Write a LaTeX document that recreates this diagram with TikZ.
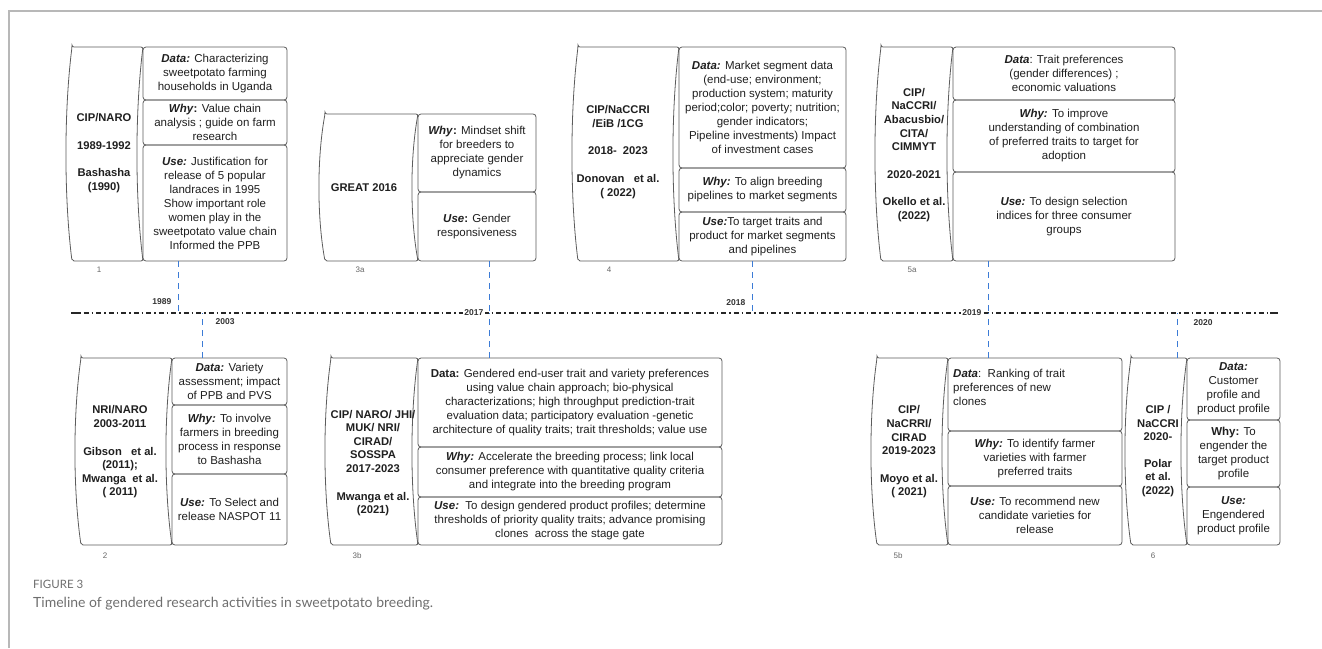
\documentclass[tikz,border=0pt]{standalone}
\usepackage{fontspec}
\setmainfont{Liberation Sans}
\newfontfamily\capfont{Lato}
\usepackage{tikz}
\usepackage{xcolor}
\definecolor{linkblue}{HTML}{3C7BD6}
\definecolor{edgegray}{HTML}{5C5C5C}
\definecolor{framegray}{HTML}{B8B8B8}
\definecolor{capgray}{HTML}{6E6E6E}
\newcommand{\bi}[1]{\textbf{\textit{#1}}}
\newcommand{\barrelshape}[4]{%
  \draw[edge,rounded corners=2pt] (#1,#3) -- (#2,#3)
    .. controls ({#2-8},{#3+0.3*(#4-#3)}) and ({#2-8},{#4-0.3*(#4-#3)}) .. (#2,#4)
    -- (#1,#4)
    .. controls ({#1-8},{#4-0.3*(#4-#3)}) and ({#1-8},{#3+0.3*(#4-#3)}) .. cycle;}
\newcommand{\cellbox}[6]{%
  \draw[edge,rounded corners=3pt] (#2,#3) rectangle (#4,#5);
  \node[celltext] (#1) at ({(#2+#4)/2},{(#3+#5)/2}) {#6};}

\begin{document}
\begin{tikzpicture}[x=1pt,y=-1pt,
  edge/.style={draw=edgegray,line width=0.8pt},
  celltext/.style={align=center,inner sep=0pt,text=black!88,font=\fontsize{11.5}{14}\selectfont},
  barreltext/.style={align=center,inner sep=0pt,text=black!88,font=\fontsize{11.2}{13.6}\selectfont\bfseries},
  tag/.style={text=black!60,inner sep=1pt,font=\fontsize{8}{9}\selectfont},
  year/.style={text=black!80,inner sep=1.5pt,font=\fontsize{8.5}{10}\selectfont\bfseries},
  link/.style={linkblue,line width=0.8pt,dash pattern=on 6pt off 5pt},
  timeline/.style={black!85,line width=2pt,dash pattern=on 5pt off 3pt on 1.5pt off 3pt}]
  \useasboundingbox (0,0) rectangle (1322,648);
  \draw[framegray,line width=1.2pt] (9,648) -- (9,11) -- (1322,11);

  \coordinate (tl0) at (71,313);
  \coordinate (tl1) at (1278,313);
  \draw[timeline] (tl0) -- (tl1);
  \draw[black!85,line width=2.6pt] (tl0) -- ++(8,0);
  \draw[black!85,line width=2.6pt] (tl1) -- ++(-8,0);

  \cellbox{n1data}{143}{47}{287}{100}{\bi{Data:} Characterizing\\sweetpotato farming\\households in Uganda}
  \cellbox{n1why}{143}{100}{287}{145}{\bi{Why}\textbf{:} Value chain\\analysis ; guide on farm\\research}
  \cellbox{n1use}{143}{145}{287}{261}{\bi{Use:} Justification for\\release of 5 popular\\landraces in 1995\\Show important role\\women play in the\\sweetpotato value chain\\Informed the PPB}
  \barrelshape{72}{143}{47}{261}
  \node[barreltext] (n1name) at (104,153) {CIP/NARO\\[14pt]1989-1992\\[14pt]Bashasha\\(1990)};
  \node[tag] (n1tag) at (99,270) {1};

  \cellbox{n3awhy}{418}{114}{536}{192}{\bi{Why}\textbf{:} Mindset shift\\for breeders to\\appreciate gender\\dynamics}
  \cellbox{n3ause}{418}{192}{536}{261}{\bi{Use}\textbf{:} Gender\\responsiveness}
  \barrelshape{325}{418}{114}{261}
  \node[barreltext] (n3aname) at (364,188) {GREAT 2016};
  \node[tag] (n3atag) at (360,270) {3a};

  \cellbox{n4data}{679}{47}{846}{168}{\bi{Data:} Market segment data\\(end-use; environment;\\production system; maturity\\period;color; poverty; nutrition;\\gender indicators;\\Pipeline investments) Impact\\of investment cases}
  \cellbox{n4why}{679}{168}{846}{212}{\bi{Why:} To align breeding\\pipelines to market segments}
  \cellbox{n4use}{679}{212}{846}{261}{\bi{Use:}To target traits and\\product for market segments\\and pipelines}
  \barrelshape{578}{679}{47}{261}
  \node[barreltext] (n4name) at (618,152) {CIP/NaCCRI\\/EiB /1CG\\[14pt]2018-~~2023\\[14pt]Donovan~~~et al.\\( 2022)};
  \node[tag] (n4tag) at (609,270) {4};

  \cellbox{n5adata}{953}{47}{1175}{100}{\bi{Data}: Trait preferences\\(gender differences) ;\\economic valuations}
  \cellbox{n5awhy}{953}{100}{1175}{172}{\bi{Why:} To improve\\understanding of combination\\of preferred traits to target for\\adoption}
  \cellbox{n5ause}{953}{172}{1175}{261}{\bi{Use:} To design selection\\indices for three consumer\\groups}
  \barrelshape{881}{953}{47}{261}
  \node[barreltext] (n5aname) at (914,155) {CIP/\\NaCCRI/\\Abacusbio/\\CITA/\\CIMMYT\\[14pt]2020-2021\\[14pt]Okello et al.\\(2022)};
  \node[tag] (n5atag) at (912,270) {5a};

  \cellbox{n2data}{172}{358}{287}{405}{\bi{Data:} Variety\\assessment; impact\\of PPB and PVS}
  \cellbox{n2why}{172}{405}{287}{474}{\bi{Why:} To involve\\farmers in breeding\\process in response\\to Bashasha}
  \cellbox{n2use}{172}{474}{287}{545}{\bi{Use:} To Select and\\release NASPOT 11}
  \barrelshape{81}{172}{358}{545}
  \node[barreltext] (n2name) at (120,452) {NRI/NARO\\2003-2011\\[14pt]Gibson~~~et al.\\(2011);\\Mwanga~~et al.\\( 2011)};
  \node[tag] (n2tag) at (105,556) {2};

  \cellbox{n3bdata}{418}{358}{722}{447}{\textbf{Data:} Gendered end-user trait and variety preferences\\using value chain approach; bio-physical\\characterizations; high throughput prediction-trait\\evaluation data; participatory evaluation -genetic\\architecture of quality traits; trait thresholds; value use}
  \cellbox{n3bwhy}{418}{447}{722}{497}{\bi{Why:} Accelerate the breeding process; link local\\consumer preference with quantitative quality criteria\\and integrate into the breeding program}
  \cellbox{n3buse}{418}{497}{722}{545}{\bi{Use:}~~To design gendered product profiles; determine\\thresholds of priority quality traits; advance promising\\clones~~across the stage gate}
  \barrelshape{331}{418}{358}{545}
  \node[barreltext] (n3bname) at (373,463) {CIP/ NARO/ JHI/\\MUK/ NRI/\\CIRAD/\\SOSSPA\\2017-2023\\[14pt]Mwanga et al.\\(2021)};
  \node[tag] (n3btag) at (357,556) {3b};

  \cellbox{n5bdata}{948}{358}{1122}{431}{}
  \node[celltext,anchor=north west,align=left] (n5bdatatext) at (953,369) {\bi{Data}:~~Ranking of trait\\preferences of new\\clones};
  \cellbox{n5bwhy}{948}{431}{1122}{486}{\bi{Why:} To identify farmer\\varieties with farmer\\preferred traits}
  \cellbox{n5buse}{948}{486}{1122}{545}{\bi{Use:} To recommend new\\candidate varieties for\\release}
  \barrelshape{877}{948}{358}{545}
  \node[barreltext] (n5bname) at (909,452) {CIP/\\NaCRRI/\\CIRAD\\2019-2023\\[14pt]Moyo et al.\\( 2021)};
  \node[tag] (n5btag) at (898,556) {5b};

  \cellbox{n6data}{1187}{358}{1280}{420}{\bi{Data:}\\Customer\\profile and\\product profile}
  \cellbox{n6why}{1187}{420}{1280}{487}{\textbf{Why:} To\\engender the\\target product\\profile}
  \cellbox{n6use}{1187}{487}{1280}{545}{\bi{Use:}\\Engendered\\product profile}
  \barrelshape{1131}{1187}{358}{545}
  \node[barreltext] (n6name) at (1158,451) {CIP /\\NaCCRI\\2020-\\[13pt]Polar\\et al.\\(2022)};
  \node[tag] (n6tag) at (1153,556) {6};

  \coordinate (b1) at (178,261);   \coordinate (t1) at (178,313);
  \coordinate (b2) at (202,358);   \coordinate (t2) at (202,313);
  \coordinate (b3a) at (489,261);  \coordinate (t3a) at (489,313);
  \coordinate (b3b) at (489,358);  \coordinate (t3b) at (489,313);
  \coordinate (b4) at (752,261);   \coordinate (t4) at (752,313);
  \coordinate (b5a) at (988,261);  \coordinate (t5a) at (988,313);
  \coordinate (b5b) at (988,358);  \coordinate (t5b) at (988,313);
  \coordinate (b6) at (1177,358);  \coordinate (t6) at (1177,313);
  \foreach \k in {1,2,3a,3b,4,5a,5b,6}
    \draw[link] (b\k) -- (t\k);

  \node[year,anchor=east] (y1989) at (173,302) {1989};
  \node[year,anchor=west] (y2003) at (214,322) {2003};
  \node[year,anchor=east,fill=white] (y2017) at (485,313) {2017};
  \node[year,anchor=east] (y2018) at (747,303) {2018};
  \node[year,anchor=east,fill=white] (y2019) at (983,313) {2019};
  \node[year,anchor=west] (y2020) at (1192,323) {2020};

  \node[anchor=west,inner sep=0pt,text=capgray,font=\capfont\fontsize{11.5}{13}\selectfont] (figlabel) at (33,584) {FIGURE 3};
  \node[anchor=west,inner sep=0pt,text=capgray,font=\capfont\fontsize{14}{16}\selectfont] (figcaption) at (33,604) {Timeline of gendered research activities in sweetpotato breeding.};
\end{tikzpicture}
\end{document}
